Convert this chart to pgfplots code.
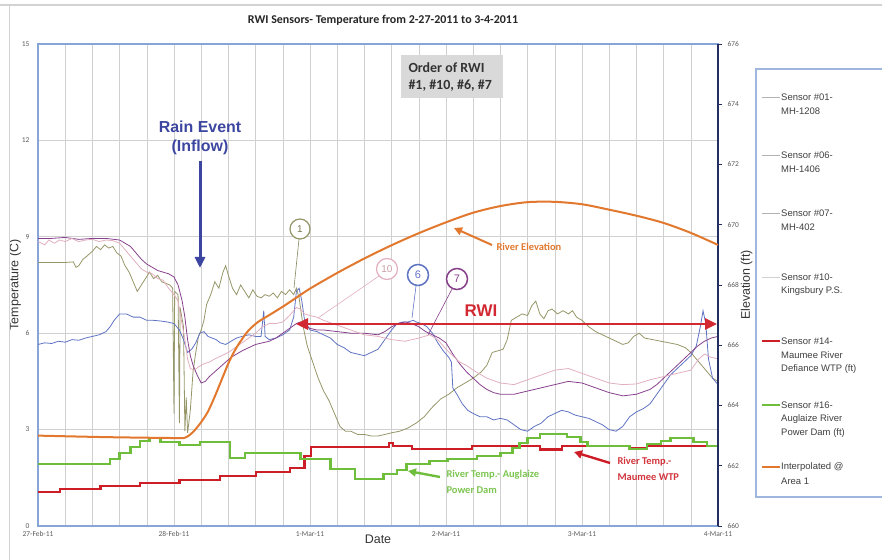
\documentclass[border=0pt]{standalone}
\usepackage{pgfplots}
\pgfplotsset{compat=1.18}
\usepackage{fontspec}
\setmainfont{Liberation Sans}
\newfontfamily\calfont{Carlito}
\usetikzlibrary{arrows.meta}
\definecolor{s01}{RGB}{150,150,105}
\definecolor{s06}{RGB}{95,115,195}
\definecolor{s07}{RGB}{135,65,140}
\definecolor{s10}{RGB}{225,175,190}
\definecolor{s14}{RGB}{205,30,40}
\definecolor{s16}{RGB}{110,190,60}
\definecolor{orng}{RGB}{225,120,45}
\definecolor{frameblue}{RGB}{135,165,215}
\definecolor{navy}{RGB}{35,45,95}
\definecolor{gridc}{RGB}{208,208,208}
\definecolor{raincol}{RGB}{60,70,160}
\definecolor{rwired}{RGB}{210,40,50}
\definecolor{ticklab}{RGB}{90,90,90}
\begin{document}
\begin{tikzpicture}
\path[use as bounding box] (0,0) rectangle (882bp,560bp);
\begin{axis}[
  at={(38bp,34bp)}, anchor=south west, scale only axis,
  width=680bp, height=482bp,
  xmin=0, xmax=5, ymin=0, ymax=15,
  xtick={0,1,2,3,4,5},
  xticklabels={27-Feb-11,28-Feb-11,1-Mar-11,2-Mar-11,3-Mar-11,4-Mar-11},
  minor x tick num=4,
  ytick={0,3,6,9,12,15},
  xmajorgrids, xminorgrids, ymajorgrids,
  grid style={draw=gridc, line width=0.6bp},
  major tick length=0pt, minor tick length=0pt,
  axis line style={draw=frameblue, line width=1.2bp},
  /pgf/number format/assume math mode=true,
  tick label style={font=\calfont\fontsize{7.5}{9}\selectfont, text=ticklab},
  yticklabel style={xshift=-5bp},
  xticklabel style={yshift=-2bp},
  xlabel={Date}, xlabel style={font=\fontsize{12.5}{14}\selectfont, text=black!80, yshift=9bp},
  ylabel={Temperature (C)}, ylabel style={font=\fontsize{12.5}{14}\selectfont, text=black!80, yshift=-6bp},
  clip=true,
]
% Sensor #01
\addplot[s01, line width=0.8bp] coordinates {
(0.00,8.20)(0.10,8.20)(0.20,8.20)(0.26,8.22)(0.28,8.05)(0.30,8.10)(0.33,8.30)(0.36,8.40)(0.40,8.55)(0.43,8.70)(0.46,8.60)(0.49,8.75)(0.52,8.65)(0.55,8.70)(0.58,8.50)(0.61,8.40)(0.64,8.10)(0.67,7.90)(0.70,7.60)(0.73,7.30)(0.76,7.50)(0.79,7.70)(0.82,7.90)(0.85,7.70)(0.88,7.80)(0.91,7.60)(0.94,7.55)(0.97,7.50)(0.99,7.40)(1.00,3.50)(1.005,7.30)(1.03,7.20)(1.04,3.20)(1.045,6.80)(1.07,6.20)(1.08,2.95)(1.09,4.00)(1.10,2.90)(1.12,3.60)(1.14,4.80)(1.16,5.40)(1.18,5.90)(1.20,6.10)(1.22,6.40)(1.24,6.90)(1.27,7.20)(1.30,7.60)(1.33,7.40)(1.36,7.90)(1.38,8.10)(1.40,7.80)(1.43,7.40)(1.46,7.20)(1.49,7.50)(1.52,7.30)(1.55,7.10)(1.58,7.35)(1.61,7.15)(1.64,7.10)(1.67,7.20)(1.70,7.15)(1.73,7.25)(1.76,7.10)(1.79,7.30)(1.82,7.20)(1.85,7.35)(1.88,7.20)(1.90,7.40)(1.92,7.10)(1.95,6.20)(1.98,5.60)(2.02,5.10)(2.06,4.60)(2.10,4.20)(2.14,3.90)(2.18,3.50)(2.22,3.10)(2.26,2.95)(2.30,2.95)(2.35,2.85)(2.40,2.85)(2.45,2.80)(2.50,2.80)(2.55,2.85)(2.60,2.90)(2.66,2.95)(2.72,3.05)(2.78,3.20)(2.84,3.40)(2.90,3.70)(2.96,3.95)(3.02,4.10)(3.08,4.30)(3.14,4.45)(3.20,4.60)(3.26,4.80)(3.30,5.00)(3.34,5.40)(3.38,5.45)(3.42,5.50)(3.45,5.80)(3.48,6.40)(3.52,6.50)(3.56,6.60)(3.60,6.55)(3.63,6.85)(3.66,7.00)(3.69,6.60)(3.72,6.45)(3.75,6.70)(3.78,6.75)(3.82,6.60)(3.86,6.70)(3.90,6.60)(3.93,6.70)(3.96,6.50)(4.00,6.40)(4.05,6.20)(4.10,6.05)(4.15,5.95)(4.20,5.85)(4.25,5.75)(4.30,5.65)(4.34,5.70)(4.38,5.90)(4.42,6.00)(4.46,5.85)(4.52,5.80)(4.58,5.75)(4.64,5.70)(4.70,5.65)(4.76,5.55)(4.80,5.40)(4.84,5.20)(4.88,5.00)(4.92,4.80)(4.96,4.60)(5.00,4.50)
};
% Sensor #06
\addplot[s06, line width=0.8bp] coordinates {
(0.00,5.65)(0.05,5.70)(0.10,5.68)(0.15,5.75)(0.20,5.72)(0.25,5.80)(0.30,5.78)(0.35,5.85)(0.40,5.90)(0.45,5.95)(0.50,6.05)(0.53,6.20)(0.56,6.40)(0.60,6.60)(0.65,6.60)(0.70,6.50)(0.75,6.50)(0.80,6.40)(0.85,6.40)(0.90,6.38)(0.95,6.35)(1.00,6.30)(1.04,6.10)(1.07,5.80)(1.10,5.40)(1.13,5.50)(1.16,5.70)(1.19,6.00)(1.22,6.05)(1.25,5.90)(1.28,5.85)(1.31,5.80)(1.34,5.70)(1.38,5.65)(1.42,5.75)(1.46,5.85)(1.50,5.90)(1.55,5.95)(1.60,5.90)(1.64,5.90)(1.66,6.70)(1.67,5.90)(1.70,5.80)(1.75,5.85)(1.80,5.95)(1.85,6.10)(1.88,6.50)(1.90,7.30)(1.92,7.40)(1.94,7.00)(1.96,6.40)(2.00,6.10)(2.05,6.05)(2.10,5.95)(2.15,5.85)(2.20,5.65)(2.25,5.55)(2.30,5.40)(2.35,5.35)(2.40,5.30)(2.45,5.40)(2.50,5.50)(2.55,5.80)(2.60,6.10)(2.64,6.30)(2.68,6.35)(2.72,6.35)(2.76,6.40)(2.78,6.35)(2.82,6.30)(2.86,6.20)(2.90,6.00)(2.94,5.70)(2.98,5.45)(3.02,5.25)(3.04,5.10)(3.05,4.30)(3.08,4.10)(3.12,3.80)(3.16,3.60)(3.20,3.50)(3.25,3.40)(3.30,3.40)(3.35,3.30)(3.40,3.35)(3.45,3.30)(3.50,3.15)(3.55,3.00)(3.60,2.95)(3.65,3.10)(3.70,3.20)(3.75,3.40)(3.80,3.50)(3.85,3.60)(3.90,3.55)(3.95,3.45)(4.00,3.40)(4.05,3.35)(4.10,3.25)(4.15,3.15)(4.20,3.00)(4.25,2.95)(4.30,3.10)(4.35,3.40)(4.40,3.55)(4.45,3.65)(4.50,3.80)(4.55,4.10)(4.60,4.40)(4.65,4.70)(4.70,4.90)(4.75,5.10)(4.80,5.30)(4.84,5.60)(4.87,6.20)(4.89,6.70)(4.91,6.30)(4.93,5.20)(4.96,4.60)(5.00,4.40)
};
% Sensor #07
\addplot[s07, line width=0.8bp] coordinates {
(0.00,8.95)(0.10,8.95)(0.20,8.98)(0.30,8.92)(0.40,8.95)(0.50,8.95)(0.60,8.90)(0.64,8.80)(0.68,8.70)(0.72,8.50)(0.76,8.30)(0.80,8.15)(0.84,8.05)(0.88,7.95)(0.92,7.90)(0.96,7.85)(1.00,7.75)(1.03,7.50)(1.06,7.00)(1.08,6.50)(1.10,5.80)(1.12,5.30)(1.14,5.00)(1.17,4.70)(1.20,4.45)(1.23,4.50)(1.26,4.65)(1.30,4.80)(1.34,4.95)(1.38,5.10)(1.42,5.25)(1.46,5.35)(1.50,5.45)(1.55,5.55)(1.60,5.65)(1.65,5.70)(1.70,5.75)(1.75,5.85)(1.80,6.00)(1.85,6.15)(1.90,6.30)(1.93,6.35)(1.96,6.25)(2.00,6.15)(2.05,6.10)(2.10,6.10)(2.20,6.05)(2.30,6.00)(2.40,6.00)(2.50,5.95)(2.55,6.05)(2.60,6.20)(2.65,6.30)(2.70,6.35)(2.75,6.30)(2.80,6.20)(2.85,6.05)(2.90,5.95)(2.95,5.85)(3.00,5.70)(3.05,5.35)(3.10,5.05)(3.15,4.80)(3.20,4.60)(3.25,4.40)(3.30,4.25)(3.35,4.15)(3.40,4.10)(3.50,4.10)(3.60,4.20)(3.70,4.30)(3.80,4.40)(3.90,4.50)(4.00,4.45)(4.10,4.30)(4.20,4.15)(4.30,4.05)(4.40,4.10)(4.50,4.25)(4.55,4.40)(4.60,4.60)(4.65,4.80)(4.70,5.00)(4.75,5.20)(4.80,5.40)(4.85,5.60)(4.90,5.75)(4.95,5.85)(5.00,5.90)
};
% Sensor #10
\addplot[s10, line width=0.8bp] coordinates {
(0.00,8.85)(0.05,8.75)(0.08,8.90)(0.12,8.80)(0.16,8.90)(0.20,8.85)(0.25,8.95)(0.30,8.85)(0.35,8.90)(0.40,8.92)(0.45,8.85)(0.50,8.90)(0.55,8.88)(0.60,8.80)(0.64,8.60)(0.68,8.40)(0.72,8.20)(0.76,8.00)(0.80,7.90)(0.84,7.85)(0.88,7.70)(0.92,7.65)(0.96,7.40)(1.00,7.20)(1.03,7.00)(1.05,6.50)(1.08,5.80)(1.10,5.20)(1.12,4.90)(1.15,4.85)(1.18,4.95)(1.22,5.05)(1.26,5.10)(1.30,5.20)(1.35,5.30)(1.40,5.40)(1.45,5.55)(1.50,5.70)(1.55,5.85)(1.60,6.00)(1.65,6.20)(1.70,6.30)(1.75,6.30)(1.80,6.35)(1.85,6.55)(1.90,6.80)(1.93,6.75)(1.96,6.60)(2.00,6.55)(2.05,6.50)(2.10,6.40)(2.20,6.25)(2.30,6.10)(2.40,5.95)(2.50,5.90)(2.60,5.80)(2.70,5.75)(2.80,5.85)(2.88,5.95)(2.94,5.80)(3.00,5.50)(3.05,5.30)(3.10,5.10)(3.15,5.00)(3.20,4.85)(3.30,4.60)(3.40,4.45)(3.50,4.40)(3.60,4.55)(3.70,4.70)(3.80,4.85)(3.90,4.90)(4.00,4.75)(4.10,4.60)(4.20,4.45)(4.30,4.40)(4.40,4.42)(4.50,4.55)(4.60,4.65)(4.70,4.75)(4.80,4.85)(4.86,5.20)(4.90,5.35)(4.95,5.25)(5.00,5.20)
};
% Sensor #14
\addplot[s14, line width=2.2bp, const plot] coordinates {
(0,1.06)(0.16,1.15)(0.46,1.25)(0.75,1.34)(1.04,1.43)(1.34,1.56)(1.60,1.68)(1.85,1.80)(1.96,2.18)(2.01,2.46)(2.58,2.58)(2.61,2.50)(2.75,2.40)(3.19,2.49)(3.69,2.38)(3.85,2.49)(4.35,2.43)(4.48,2.49)(5.00,2.49)
};
% Sensor #16
\addplot[s16, line width=2.4bp, const plot] coordinates {
(0,1.93)(0.53,2.08)(0.60,2.27)(0.68,2.46)(0.75,2.65)(0.82,2.74)(0.90,2.61)(1.04,2.52)(1.19,2.61)(1.41,2.12)(1.52,2.27)(1.93,2.08)(2.15,1.77)(2.33,1.46)(2.54,1.62)(2.64,1.75)(2.71,1.93)(2.88,2.02)(3.01,2.08)(3.23,2.18)(3.40,2.27)(3.49,2.43)(3.54,2.58)(3.60,2.74)(3.69,2.86)(3.89,2.77)(3.99,2.61)(4.04,2.49)(4.35,2.40)(4.48,2.55)(4.58,2.65)(4.65,2.74)(4.82,2.62)(4.92,2.49)(5.00,2.49)
};
\end{axis}
\begin{axis}[
  at={(38bp,34bp)}, anchor=south west, scale only axis,
  width=680bp, height=482bp,
  xmin=0, xmax=5, ymin=660, ymax=676,
  axis x line=none, axis y line*=right,
  ytick={660,662,...,676},
  tick align=outside, major tick length=4bp,
  ytick style={draw=navy, line width=0.6bp},
  y axis line style={draw=navy, line width=1.2bp, -},
  /pgf/number format/assume math mode=true,
  tick label style={font=\calfont\fontsize{7.5}{9}\selectfont, text=ticklab},
  yticklabel style={xshift=2bp},
  ylabel={Elevation (ft)}, ylabel shift=-5bp, ylabel style={font=\fontsize{12.5}{14}\selectfont, text=black!80},
]
\addplot[orng, line width=2bp, smooth] coordinates {
(0,663.00)(0.5,662.95)(1.0,662.92)(1.08,662.93)(1.14,663.12)(1.20,663.45)(1.25,663.8)(1.30,664.3)(1.35,664.85)(1.40,665.4)(1.45,665.85)(1.50,666.2)(1.55,666.5)(1.62,666.78)(1.70,667.0)(1.80,667.28)(1.90,667.58)(2.0,667.88)(2.2,668.4)(2.4,668.88)(2.6,669.32)(2.8,669.72)(3.0,670.08)(3.2,670.4)(3.4,670.62)(3.6,670.75)(3.8,670.76)(4.0,670.68)(4.2,670.5)(4.4,670.3)(4.6,670.06)(4.8,669.73)(5.0,669.33)
};
\end{axis}
\begin{scope}[x=1bp,y=-1bp,yshift=560bp]
% frame lines of the image
\draw[gray!35, line width=1.5bp] (0,5)--(882,5);
\draw[gray!35, line width=1bp] (9,5)--(9,560);
% title
\node[font=\calfont\bfseries\fontsize{12}{14}\selectfont, text=black!85] at (383,20) {RWI Sensors- Temperature from 2-27-2011 to 3-4-2011};
% Rain event
\node[font=\bfseries\fontsize{16}{18}\selectfont, text=raincol] at (200,127) {Rain Event};
\node[font=\bfseries\fontsize{16}{18}\selectfont, text=raincol] at (200,147) {(Inflow)};
\draw[raincol, line width=3bp, -{Triangle[length=11bp,width=10bp]}] (200,161)--(200,268);
% Order box
\fill[black!15] (401,55) rectangle (503,98);
\node[anchor=west, font=\calfont\bfseries\fontsize{14}{16}\selectfont, text=black!80] at (405,68) {Order of RWI};
\node[anchor=west, font=\calfont\bfseries\fontsize{14}{16}\selectfont, text=black!80] at (405,86) {\#1, \#10, \#6, \#7};
% circled labels
\draw[s01!90!black, line width=0.6bp] (299,239)--(294,288);
\node[circle, draw=s01, line width=1.2bp, minimum size=20bp, inner sep=0pt, text=s01!80!black, font=\fontsize{10}{12}\selectfont, fill=white] at (300,229) {1};
\draw[s10, line width=0.6bp] (379,276)--(318,318);
\node[circle, draw=s10, line width=1.2bp, minimum size=21bp, inner sep=0pt, text=s10!90!black, font=\fontsize{10}{12}\selectfont, fill=white] at (387,269) {10};
\draw[s06, line width=0.6bp] (416,286)--(412,318);
\node[circle, draw=s06, line width=1.5bp, minimum size=21bp, inner sep=0pt, text=s06, font=\fontsize{11}{12}\selectfont, fill=white] at (418,275) {6};
\draw[s07, line width=0.6bp] (452,289)--(428,335);
\node[circle, draw=s07, line width=1.5bp, minimum size=21bp, inner sep=0pt, text=s07, font=\fontsize{11}{12}\selectfont, fill=white] at (457,279) {7};
% RWI arrow
\node[font=\bfseries\fontsize{17}{19}\selectfont, text=rwired] at (481,311) {RWI};
\draw[rwired, line width=2.6bp, {Triangle[length=12bp,width=11bp]}-{Triangle[length=12bp,width=11bp]}] (296,324)--(717,324);
% River elevation
\node[anchor=west, font=\calfont\bfseries\fontsize{10.5}{12}\selectfont, text=orng] at (493,247) {River Elevation};
\draw[orng, line width=2bp, -{Triangle[length=8bp,width=8bp]}] (492,245)--(454,228);
% Auglaize
\node[anchor=west, font=\calfont\bfseries\fontsize{10.5}{12}\selectfont, text=s16!90!white] at (443,475) {River Temp.- Auglaize};
\node[anchor=west, font=\calfont\bfseries\fontsize{10.5}{12}\selectfont, text=s16!90!white] at (443,490) {Power Dam};
\draw[s16, line width=2.4bp, -{Triangle[length=8bp,width=8bp]}] (440,477)--(408,471);
% Maumee
\node[anchor=west, font=\calfont\bfseries\fontsize{10.5}{12}\selectfont, text=s14!90!white] at (614,462) {River Temp.-};
\node[anchor=west, font=\calfont\bfseries\fontsize{10.5}{12}\selectfont, text=s14!90!white] at (614,477) {Maumee WTP};
\draw[s14, line width=2.4bp, -{Triangle[length=8bp,width=8bp]}] (610,463)--(574,452);
% Legend
\draw[frameblue!80, line width=1.5bp, fill=white] (756,69) rectangle (900,497);
\begin{scope}[every node/.style={anchor=west, inner sep=0pt, font=\fontsize{9.5}{11}\selectfont, text=black!75}]
\draw[gray!60, line width=0.8bp] (762,97)--(780,97);
\node at (781,97) {Sensor \#01-}; \node at (781,111) {MH-1208};
\draw[gray!60, line width=0.8bp] (762,155)--(780,155);
\node at (781,155) {Sensor \#06-}; \node at (781,169) {MH-1406};
\draw[gray!60, line width=0.8bp] (762,213)--(780,213);
\node at (781,213) {Sensor \#07-}; \node at (781,227) {MH-402};
\draw[gray!35, line width=0.8bp] (762,277)--(780,277);
\node at (781,277) {Sensor \#10-}; \node at (781,291) {Kingsbury P.S.};
\draw[s14, line width=1.5bp] (762,341)--(780,341);
\node at (781,341) {Sensor \#14-}; \node at (781,355) {Maumee River}; \node at (781,369) {Defiance WTP (ft)};
\draw[s16, line width=1.5bp] (762,405)--(780,405);
\node at (781,405) {Sensor \#16-}; \node at (781,419) {Auglaize River}; \node at (781,433) {Power Dam (ft)};
\draw[orng, line width=1.5bp] (762,467)--(780,467);
\node at (781,467) {Interpolated @}; \node at (781,481) {Area 1};
\end{scope}
\end{scope}
\end{tikzpicture}
\end{document}
